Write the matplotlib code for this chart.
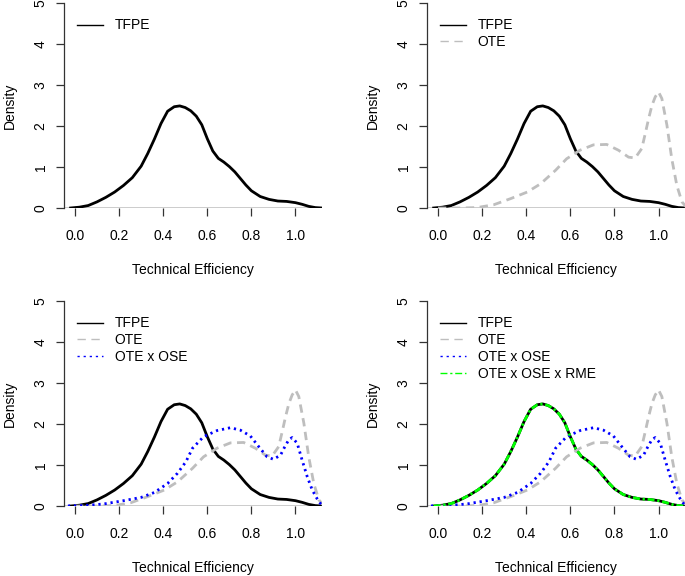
import matplotlib
matplotlib.use("Agg")
import matplotlib.pyplot as plt
from matplotlib.lines import Line2D

plt.rcParams['font.family'] = ['Liberation Sans', 'DejaVu Sans']
plt.rcParams['font.size'] = 10
plt.rcParams['lines.scale_dashes'] = False

# density curves
tfpe_x = [-0.02, 0.02, 0.06, 0.10, 0.14, 0.18, 0.22, 0.26, 0.30, 0.33, 0.36, 0.39,
          0.42, 0.45, 0.475, 0.50, 0.525, 0.55, 0.575, 0.60, 0.625, 0.65, 0.675,
          0.70, 0.725, 0.75, 0.775, 0.80, 0.84, 0.88, 0.92, 0.96, 1.00, 1.03,
          1.06, 1.09, 1.12]
tfpe_y = [0.0, 0.02, 0.06, 0.15, 0.26, 0.39, 0.55, 0.74, 1.02, 1.33, 1.68, 2.06,
          2.36, 2.47, 2.49, 2.45, 2.37, 2.24, 2.03, 1.69, 1.39, 1.21, 1.12,
          1.01, 0.88, 0.72, 0.56, 0.42, 0.28, 0.21, 0.17, 0.16, 0.13, 0.09,
          0.04, 0.01, 0.0]

ote_x = [0.0, 0.10, 0.177, 0.253, 0.33, 0.405, 0.465, 0.533, 0.583, 0.644, 0.705,
         0.765, 0.818, 0.864, 0.894, 0.924, 0.94, 0.955, 0.97, 0.985, 1.0, 1.015,
         1.038, 1.06, 1.083, 1.106, 1.13]
ote_y = [0.0, 0.0, 0.01, 0.08, 0.23, 0.39, 0.59, 0.92, 1.20, 1.41, 1.54,
         1.55, 1.41, 1.24, 1.22, 1.45, 1.82, 2.18, 2.50, 2.71, 2.83, 2.67,
         2.02, 1.20, 0.55, 0.15, 0.0]

ote_ose_x = [-0.06, 0.04, 0.13, 0.22, 0.30, 0.36, 0.42, 0.465, 0.503, 0.533, 0.583,
             0.644, 0.705, 0.75, 0.795, 0.833, 0.871, 0.90, 0.932, 0.95, 0.97,
             0.985, 1.008, 1.03, 1.053, 1.076, 1.106, 1.125]
ote_ose_y = [0.0, 0.01, 0.05, 0.13, 0.21, 0.33, 0.55, 0.80, 1.08, 1.41, 1.69,
             1.84, 1.91, 1.85, 1.71, 1.45, 1.20, 1.14, 1.24, 1.43, 1.62,
             1.67, 1.53, 1.12, 0.72, 0.39, 0.10, 0.0]

# RME-adjusted curve sits right on top of TFPE
ote_ose_rme_x = list(tfpe_x)
ote_ose_rme_y = list(tfpe_y)

labels = ["TFPE", "OTE", "OTE x OSE", "OTE x OSE x RME"]
colors = ["black", "#BEBEBE", "#0000FF", "#00FF00"]
dashes = [None, (6, 4), (1.6, 2.8), (5, 2, 1.6, 2)]
series = [(tfpe_x, tfpe_y), (ote_x, ote_y), (ote_ose_x, ote_ose_y),
          (ote_ose_rme_x, ote_ose_rme_y)]
x_ticks = [0.0, 0.2, 0.4, 0.6, 0.8, 1.0]
y_ticks = [0, 1, 2, 3, 4, 5]


def draw_panel(ax, n):
    ax.axhline(0, color="#BEBEBE", lw=1.1, zorder=1)
    handles = []
    for i in range(n):
        x, y = series[i]
        line, = ax.plot(x, y, color=colors[i], lw=2.0, zorder=2 + i,
                        solid_joinstyle="round")
        h = Line2D([], [], color=colors[i], lw=1.0)
        if dashes[i] is not None:
            line.set_dashes(dashes[i])
            h.set_dashes(dashes[i])
        handles.append(h)
    ax.legend(handles, labels[:n], loc="upper left", bbox_to_anchor=(0.05, 0.925),
              frameon=False, borderaxespad=0, borderpad=0, handlelength=1.87,
              handletextpad=0.85, labelspacing=0.2, fontsize=10)

    ax.set_xlim(-0.05, 1.12)
    ax.set_ylim(0, 5)
    ax.set_xticks(x_ticks)
    ax.set_xticklabels(["%.1f" % v for v in x_ticks])
    ax.set_yticks(y_ticks)
    ax.set_yticklabels([str(v) for v in y_ticks], rotation=90, va="center")
    for s in ["top", "right", "bottom"]:
        ax.spines[s].set_visible(False)
    ax.spines["left"].set_color("#333333")
    ax.spines["left"].set_linewidth(0.9)
    ax.tick_params(axis="both", direction="out", length=5.8, width=0.9, color="#333333")
    ax.tick_params(axis="x", pad=9.5)
    ax.tick_params(axis="y", pad=6)
    ax.set_xlabel("Technical Efficiency", labelpad=14)
    ax.set_ylabel("Density", labelpad=12)


fig = plt.figure(figsize=(6.85, 5.76), dpi=100)
w, h = 0.3766, 0.3559
positions = [(0.0934, 0.6389), (0.6234, 0.6389), (0.0934, 0.1215), (0.6234, 0.1215)]
for k, (l, b) in enumerate(positions):
    ax = fig.add_axes([l, b, w, h])
    draw_panel(ax, k + 1)

fig.savefig("out.png", dpi=100)
